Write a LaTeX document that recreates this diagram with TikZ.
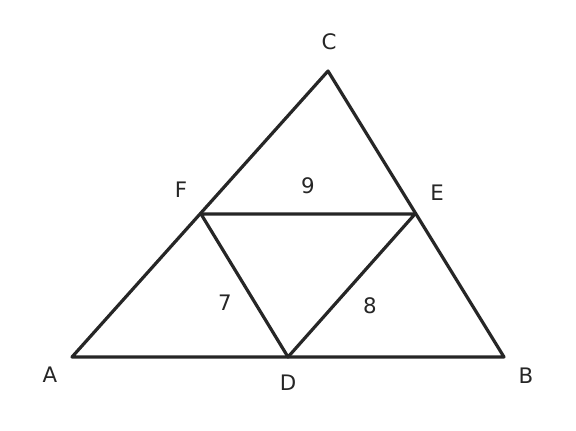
\documentclass[tikz,border=0pt]{standalone}
\usepackage{fontspec}
\setmainfont{DejaVu Sans}
\definecolor{ink}{HTML}{262626}
\begin{document}
\begin{tikzpicture}[x=0.75pt,y=-0.75pt,
  edge/.style={draw=ink,line width=2.4pt,line join=round,line cap=round},
  lbl/.style={text=ink,font=\fontsize{16}{18}\selectfont,inner sep=0pt}]
\useasboundingbox (0,0) rectangle (576,430);
\coordinate (A) at (72,357);
\coordinate (B) at (504,357);
\coordinate (C) at (328,71);
\coordinate (D) at (288,357);
\coordinate (E) at (415,214);
\coordinate (F) at (201,214);
\draw[edge] (A) -- (B) -- (C) -- cycle;
\draw[edge] (F) -- (E) -- (D) -- cycle;
\node[lbl] (lC) at (329,42) {C};
\node[lbl] (lF) at (181,190) {F};
\node[lbl] (lE) at (437,193) {E};
\node[lbl] (lA) at (50,375) {A};
\node[lbl] (lD) at (288,383) {D};
\node[lbl] (lB) at (526,376) {B};
\node[lbl] (n9) at (308,186) {9};
\node[lbl] (n7) at (225,303) {7};
\node[lbl] (n8) at (370,306) {8};
\end{tikzpicture}
\end{document}
